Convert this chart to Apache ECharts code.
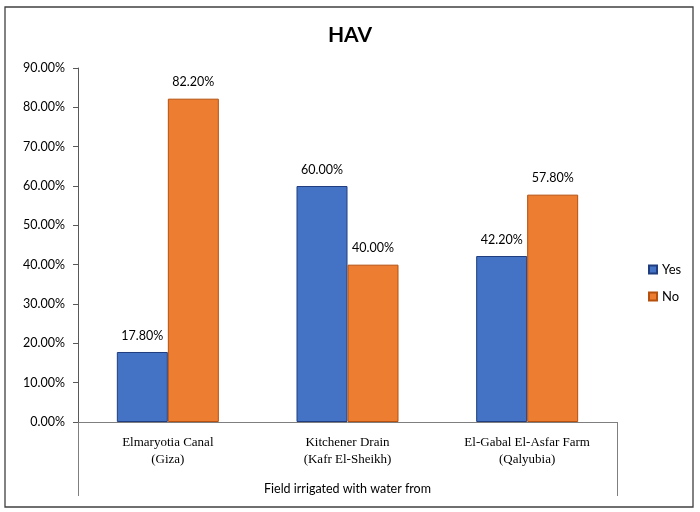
<!DOCTYPE html>
<html><head><meta charset="utf-8">
<script src="https://cdn.jsdelivr.net/npm/echarts@6/dist/echarts.min.js"></script>
<style>html,body{margin:0;padding:0;background:#fff}#c{width:700px;height:512px}</style>
</head><body><div id="c"></div>
<script>
const categories = ['Elmaryotia Canal\n(Giza)', 'Kitchener Drain\n(Kafr El-Sheikh)', 'El-Gabal El-Asfar Farm\n(Qalyubia)'];
const yesValues = [17.8, 60.0, 42.2];
const noValues = [82.2, 40.0, 57.8];
const groupLabel = ['Field irrigated with water from'];

const chart = echarts.init(document.getElementById('c'));
const font = 'Lato, "Noto Sans", sans-serif';
chart.setOption({
  animation: false,
  title: { text: 'HAV', left: 'center', top: 20, textStyle: { fontFamily: font, fontWeight: 'bold', fontSize: 21, color: '#000' } },
  legend: {
    orient: 'vertical', left: 643, top: 258, itemWidth: 8, itemHeight: 8, itemGap: 14, icon: 'rect',
    textStyle: { fontFamily: font, fontSize: 13, color: '#000' },
    data: ['Yes', 'No']
  },
  graphic: [{ type: 'rect', shape: { x: 5, y: 7, width: 688, height: 500 }, style: { fill: 'none', stroke: '#404040', lineWidth: 1.3 } }],
  grid: { left: 78, right: 83, top: 68, bottom: 90 },
  xAxis: [{
    type: 'category', data: categories,
    axisLine: { lineStyle: { color: '#7f7f7f' } },
    axisTick: { show: false },
    axisLabel: { fontFamily: '"Liberation Serif", serif', fontSize: 13, color: '#000', margin: 12, lineHeight: 17 }
  }, {
    type: 'category', data: groupLabel, position: 'bottom',
    axisLine: { show: false },
    axisTick: { show: true, length: 74, lineStyle: { color: '#7f7f7f' } },
    axisLabel: { fontFamily: font, fontSize: 12.5, color: '#000', margin: 60 }
  }],
  yAxis: {
    type: 'value', min: 0, max: 90, interval: 10,
    axisLine: { show: true, lineStyle: { color: '#595959' } },
    axisTick: { show: true, length: 5, lineStyle: { color: '#595959' } },
    splitLine: { show: false },
    axisLabel: { fontFamily: font, fontSize: 12.5, color: '#000', margin: 13, formatter: v => v.toFixed(2) + '%' }
  },
  series: [{
    name: 'Yes', type: 'bar', data: yesValues, barWidth: 51, barGap: '0%',
    itemStyle: { color: '#4472C4', borderColor: '#203e7f', borderWidth: 1 },
    label: { show: true, position: 'top', distance: 10, fontFamily: font, fontSize: 12.5, color: '#000', formatter: p => p.value.toFixed(2) + '%' }
  }, {
    name: 'No', type: 'bar', data: noValues, barWidth: 51,
    itemStyle: { color: '#ED7D31', borderColor: '#b5500f', borderWidth: 1 },
    label: { show: true, position: 'top', distance: 10, fontFamily: font, fontSize: 12.5, color: '#000', formatter: p => p.value.toFixed(2) + '%' }
  }]
});
</script></body></html>
